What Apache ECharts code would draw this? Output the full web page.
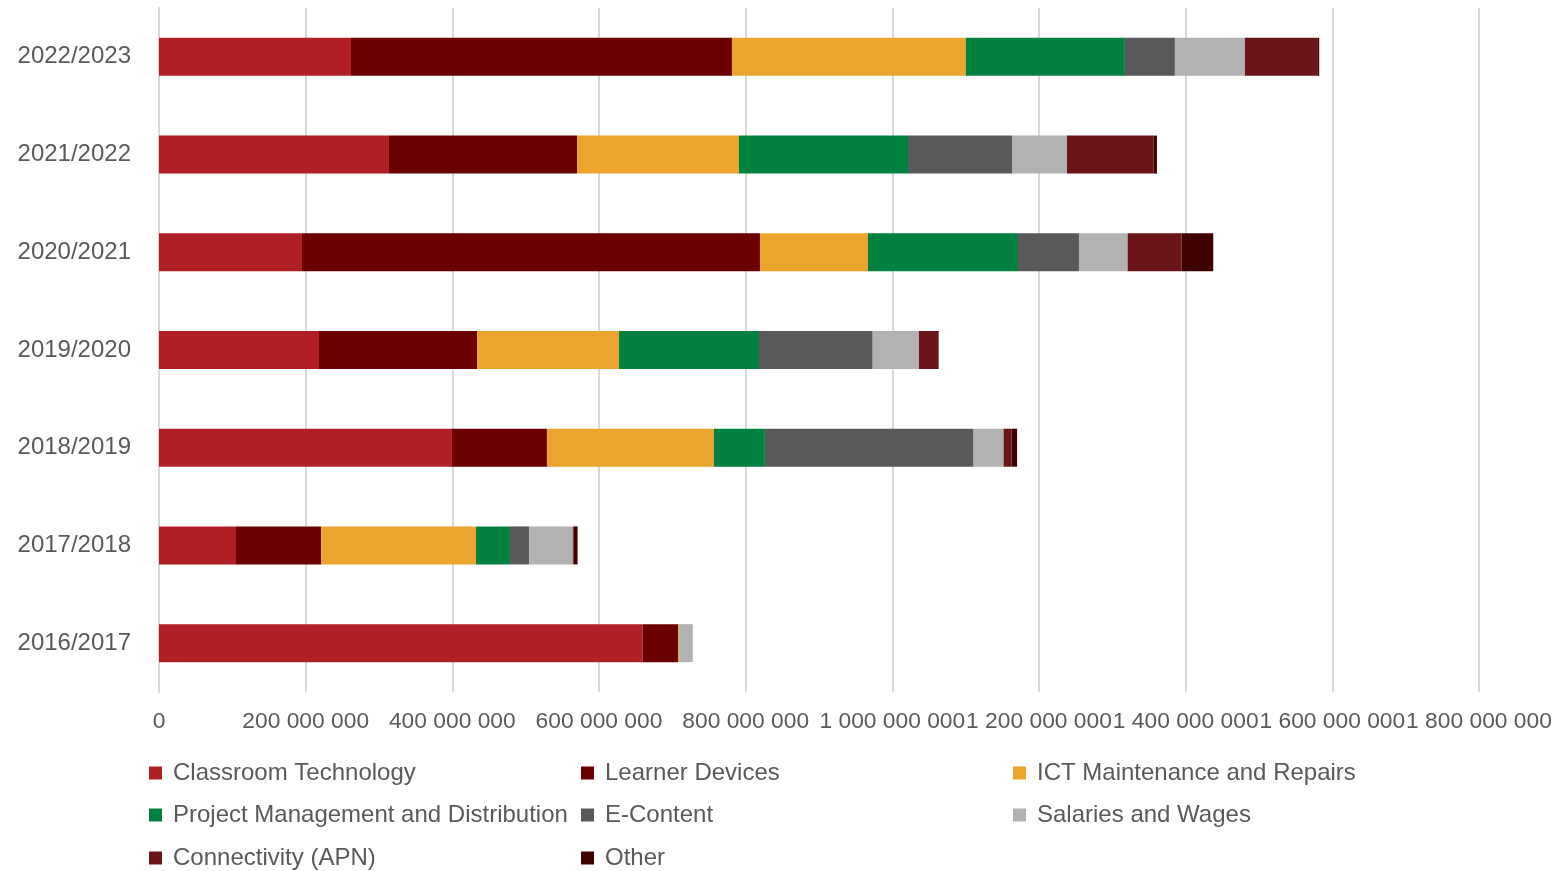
<!DOCTYPE html>
<html>
<head>
<meta charset="utf-8">
<script src="https://cdn.jsdelivr.net/npm/echarts@6/dist/echarts.min.js"></script>
<style>
  html, body { margin: 0; padding: 0; background: #fff; }
  #main { width: 1559px; height: 871px; }
</style>
</head>
<body>
<div id="main"></div>
<script>
// 年度分类（从上到下）
const years = ['2022/2023', '2021/2022', '2020/2021', '2019/2020', '2018/2019', '2017/2018', '2016/2017'];
const xTicks = [0, 200000000, 400000000, 600000000, 800000000, 1000000000, 1200000000, 1400000000, 1600000000, 1800000000];

// 各项支出（单位：元）
const classroomTech = [261800000, 313600000, 195000000, 218200000, 399500000, 105000000, 659600000];
const learnerDevices = [519500000, 256400000, 624500000, 215500000, 129500000, 115900000, 48100000];
const ictMaintenance = [319000000, 220900000, 147300000, 193600000, 227700000, 211400000, 1500000];
const projectMgmt = [216800000, 230500000, 204500000, 190900000, 69500000, 46400000, 0];
const eContent = [68200000, 141800000, 83200000, 155000000, 284600000, 26300000, 0];
const salaries = [95500000, 75000000, 66400000, 63100000, 40900000, 59200000, 18700000];
const connectivity = [98600000, 118000000, 73600000, 26900000, 10900000, 1000000, 0];
const other = [2700000, 4600000, 43100000, 0, 7600000, 5600000, 0];

const chart = echarts.init(document.getElementById('main'));

function fmt(v) {
    return String(v).replace(/\B(?=(\d{3})+(?!\d))/g, ' ');
}

function bar(name, data, color) {
    return {
        name: name,
        type: 'bar',
        stack: 'total',
        data: data,
        barWidth: 38,
        itemStyle: { color: color },
        emphasis: { disabled: true }
    };
}

const FONT = 'Liberation Sans, Arial, sans-serif';

// 图例：每项单独定位，三列排布
function legendItem(name, left, centerY) {
    return {
        data: [name],
        left: left,
        top: centerY - 11,
        padding: 0,
        icon: 'rect',
        itemWidth: 13,
        itemHeight: 13,
        textStyle: {
            color: '#595959',
            fontSize: 24,
            fontFamily: FONT,
            lineHeight: 24,
            padding: [0, 0, 0, 6]
        },
        selectedMode: false
    };
}

const option = {
    backgroundColor: '#fff',
    animation: false,
    grid: {
        left: 159,
        right: 80,
        top: 8,
        height: 684,
        containLabel: false
    },
    legend: [
        legendItem('Classroom Technology', 149, 772),
        legendItem('Learner Devices', 581, 772),
        legendItem('ICT Maintenance and Repairs', 1013, 772),
        legendItem('Project Management and Distribution', 149, 814),
        legendItem('E-Content', 581, 814),
        legendItem('Salaries and Wages', 1013, 814),
        legendItem('Connectivity (APN)', 149, 857),
        legendItem('Other', 581, 857)
    ],
    xAxis: {
        type: 'value',
        min: xTicks[0],
        max: xTicks[xTicks.length - 1],
        interval: 200000000,
        axisLine: { show: false },
        axisTick: { show: false },
        splitLine: { show: true, lineStyle: { color: '#D9D9D9', width: 2 } },
        axisLabel: {
            margin: 18,
            color: '#595959',
            fontSize: 22.8,
            fontFamily: FONT,
            showMinLabel: true,
            showMaxLabel: true,
            hideOverlap: false,
            formatter: fmt
        }
    },
    yAxis: {
        type: 'category',
        data: years,
        inverse: true,
        axisLine: { show: true, lineStyle: { color: '#D9D9D9', width: 2 } },
        axisTick: { show: false },
        axisLabel: {
            margin: 28,
            color: '#595959',
            fontSize: 24,
            fontFamily: FONT
        }
    },
    series: [
        bar('Classroom Technology', classroomTech, '#B01F24'),
        bar('Learner Devices', learnerDevices, '#6B0000'),
        bar('ICT Maintenance and Repairs', ictMaintenance, '#EBA52E'),
        bar('Project Management and Distribution', projectMgmt, '#008140'),
        bar('E-Content', eContent, '#58595B'),
        bar('Salaries and Wages', salaries, '#B2B2B2'),
        bar('Connectivity (APN)', connectivity, '#6B1518'),
        bar('Other', other, '#3F0000')
    ]
};

chart.setOption(option);
</script>
</body>
</html>
